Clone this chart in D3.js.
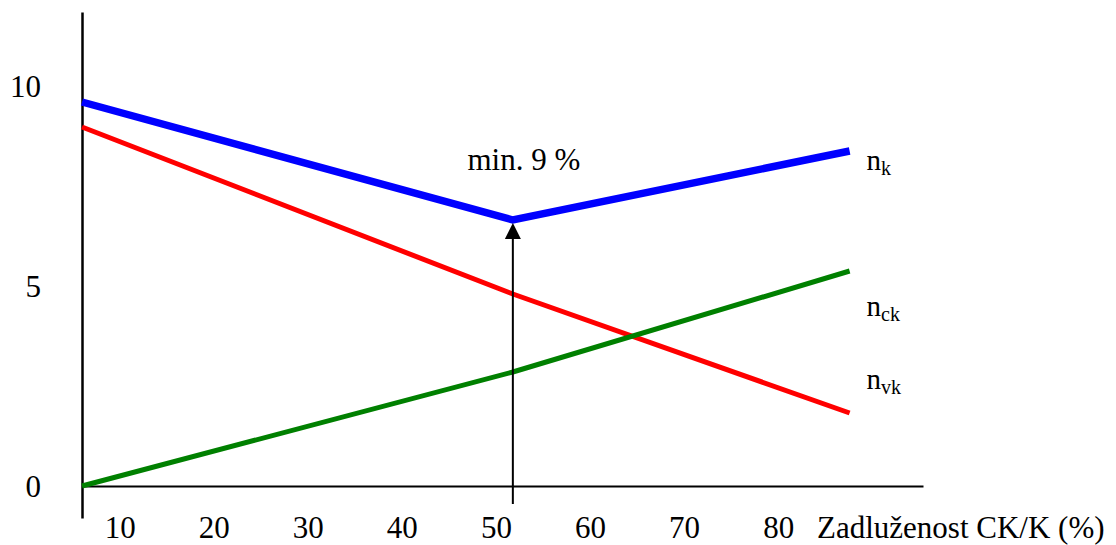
<!DOCTYPE html>
<html>
<head>
<meta charset="utf-8">
<script src="https://cdn.jsdelivr.net/npm/d3@7"></script>
<style>
  body { margin: 0; background: #fff; }
  svg, svg text { font-family: "Liberation Serif", "DejaVu Serif", "Noto Serif", Tinos, Times, serif; }
</style>
</head>
<body>
<script>
// debt ratio (%) at the start, at the cost minimum and at the end
var debt = [6, 51.8, 87.6];
// cost of capital series
var nk = [9.6, 6.65, 8.375],   // total cost of capital
	nvk = [8.975, 4.8, 1.825],  // cost of equity
	nck = [0, 2.85, 5.375];     // cost of debt
var xTicks = [10, 20, 30, 40, 50, 60, 70, 80],
	yTicks = [0, 5, 10];
var xTitle = 'Zadluženost CK/K (%)',
	minLabel = 'min. 9 %';

var width = 1116, height = 545;
var serif = '"Liberation Serif", "DejaVu Serif", "Noto Serif", Tinos, Times, serif';

// scales (axis lines run a bit past the data on both ends)
var x = d3.scaleLinear()
	.domain([6, 95.4])
	.range([82, 923]);

var y = d3.scaleLinear()
	.domain([-0.8, 11.85])
	.range([518, 12]);

var svg = d3.select('body')
	.append('svg')
	.attr('width', width)
	.attr('height', height)
	.attr('font-family', serif);

// x axis along y = 0
var xAxis = svg.append('g')
	.attr('transform', 'translate(0,' + y(0) + ')')
	.call(d3.axisBottom(x).tickValues(xTicks).tickSize(0).tickSizeOuter(0))
	.attr('font-family', serif)
	.attr('font-size', 31);
xAxis.select('.domain').attr('stroke', '#000').attr('stroke-width', 2);
xAxis.selectAll('text')
	.attr('y', 52)
	.attr('dy', 0)
	.attr('fill', '#000');

// y axis
var yAxis = svg.append('g')
	.attr('transform', 'translate(' + x(6) + ',0)')
	.call(d3.axisLeft(y).tickValues(yTicks).tickSize(0).tickSizeOuter(0))
	.attr('font-family', serif)
	.attr('font-size', 31);
yAxis.select('.domain').attr('stroke', '#000').attr('stroke-width', 2.5);
yAxis.selectAll('text')
	.attr('x', -41)
	.attr('dy', 10)
	.attr('fill', '#000');

svg.append('text')
	.attr('x', 817)
	.attr('y', y(0) + 52)
	.attr('font-size', 31)
	.text(xTitle);

// series lines
var line = d3.line()
	.x(function(d, i) { return x(debt[i]); })
	.y(function(d) { return y(d); });

var series = [
	{ name: 'vk', values: nvk, color: '#ff0000', w: 5, dy: -24 },
	{ name: 'ck', values: nck, color: '#008000', w: 5, dy: 45 },
	{ name: 'k', values: nk, color: '#0000ff', w: 7.5, dy: 19 }
];

svg.selectAll('path.series')
	.data(series)
	.enter().append('path')
		.attr('class', 'series')
		.attr('d', function(d) { return line(d.values); })
		.attr('fill', 'none')
		.attr('stroke', function(d) { return d.color; })
		.attr('stroke-width', function(d) { return d.w; });

// labels n_k, n_ck, n_vk at the right end
var lbl = svg.selectAll('text.lbl')
	.data(series)
	.enter().append('text')
		.attr('class', 'lbl')
		.attr('x', x(debt[2]) + 17)
		.attr('y', function(d) { return y(d.values[2]) + d.dy; })
		.attr('font-size', 29);
lbl.append('tspan').text('n');
lbl.append('tspan')
	.attr('font-size', 20)
	.attr('dy', 5)
	.text(function(d) { return d.name; });

// arrow up to the minimum
var mx = x(debt[1]), my = y(nk[1]) + 3;
svg.append('line')
	.attr('x1', mx).attr('x2', mx)
	.attr('y1', y(-0.45)).attr('y2', my + 14)
	.attr('stroke', '#000')
	.attr('stroke-width', 2);
svg.append('path')
	.attr('d', 'M' + mx + ',' + my + 'L' + (mx - 8) + ',' + (my + 16) + 'L' + (mx + 8) + ',' + (my + 16) + 'Z')
	.attr('fill', '#000');

svg.append('text')
	.attr('x', mx + 11)
	.attr('y', y(nk[1]) - 50)
	.attr('text-anchor', 'middle')
	.attr('font-size', 31)
	.text(minLabel);
</script>
</body>
</html>
